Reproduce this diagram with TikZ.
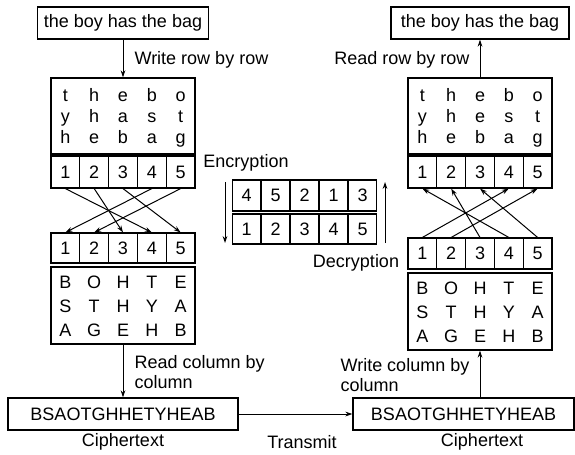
\documentclass[tikz,border=0pt]{standalone}
\usepackage{fontspec}
\setmainfont{Liberation Sans}
\usetikzlibrary{arrows.meta}

\begin{document}
\begin{tikzpicture}[x=0.6pt,y=-0.6pt,line width=0.7pt,
  every node/.style={font=\fontsize{10.8}{12}\selectfont},
  box/.style={draw,inner sep=0pt,minimum height=19.2pt},
  cell/.style={draw,inner sep=0pt,minimum width=17.28pt,minimum height=19.2pt},
  grid/.style={draw,inner sep=0pt,minimum width=86.4pt,minimum height=45.6pt},
  letter/.style={inner sep=0pt,anchor=base},
  lbl/.style={inner sep=0pt},
  arr/.style={-{Stealth[length=4.2pt,width=2.8pt]},line width=0.6pt}]
\useasboundingbox (0,0) rectangle (575,454);

% plaintext boxes
\node[box,minimum width=102.6pt] (ptL) at (123,23) {the boy has the bag};
\node[box,minimum width=106.8pt] (ptR) at (480,23) {the boy has the bag};

% letter grids
\node[grid] (mL) at (123,116) {};
\node[grid,minimum height=46.2pt] (cL) at (123,305.5) {};
\node[grid] (mR) at (480,116) {};
\node[grid,minimum height=46.2pt] (cR) at (480,311.5) {};

\foreach \row/\yy [count=\r] in {{t,h,e,b,o}/101,{y,h,a,s,t}/122,{h,e,b,a,g}/143}
  \foreach \ch [count=\i] in \row
    \node[letter] (plL-\r-\i) at ({65.4+28.8*(\i-1)},\yy) {\ch};
\foreach \row/\yy [count=\r] in {{t,h,e,b,o}/101,{y,h,e,s,t}/122,{h,e,b,a,g}/143}
  \foreach \ch [count=\i] in \row
    \node[letter] (plR-\r-\i) at ({422.4+28.8*(\i-1)},\yy) {\ch};
\foreach \row/\yy [count=\r] in {{B,O,H,T,E}/288,{S,T,H,Y,A}/312,{A,G,E,H,B}/336}
  \foreach \ch [count=\i] in \row
    \node[letter] (ctL-\r-\i) at ({65.4+28.8*(\i-1)},\yy) {\ch};
\foreach \row/\yy [count=\r] in {{B,O,H,T,E}/294,{S,T,H,Y,A}/318,{A,G,E,H,B}/342}
  \foreach \ch [count=\i] in \row
    \node[letter] (ctR-\r-\i) at ({422.4+28.8*(\i-1)},\yy) {\ch};

% key rows
\foreach \i in {1,...,5} {
  \node[cell] (kL\i) at ({65.4+28.8*(\i-1)},172) {\i};
  \node[cell,minimum height=18pt] (pL\i) at ({65.4+28.8*(\i-1)},248) {\i};
  \node[cell] (kR\i) at ({422.4+28.8*(\i-1)},172) {\i};
  \node[cell,minimum height=18.6pt] (pR\i) at ({422.4+28.8*(\i-1)},253.5) {\i};
  \node[cell,minimum height=18pt] (mn\i) at ({246.5+29*(\i-1)},229) {\i};
}
\foreach \k [count=\i] in {4,5,2,1,3}
  \node[cell,minimum height=18.6pt] (mk\i) at ({246.5+29*(\i-1)},195.5) {\k};

% cipher boxes
\node[box,minimum width=138pt] (ctL) at (123,414) {BSAOTGHHETYHEAB};
\node[box,minimum width=132.6pt] (ctR) at (463.5,414) {BSAOTGHHETYHEAB};

% arrows
\draw[arr] (ptL.south) -- (mL.north);
\draw[arr] (mR.north) -- (ptR.south);
\draw[arr] (cL.south) -- (ctL.north);
\draw[arr] (ctR.north -| cR.south) -- (cR.south);
\draw[arr] (ctL.east) -- (ctR.west);
\foreach \a/\b in {1/4,2/3,3/5,4/1,5/2}
  \draw[arr] (kL\a.south) -- (pL\b.north);
\foreach \a/\b in {1/4,2/5,3/2,4/1,5/3}
  \draw[arr] (pR\a.north) -- (kR\b.south);
\coordinate (encA) at (225,182);
\coordinate (encB) at (225,243);
\coordinate (decA) at (385,243);
\coordinate (decB) at (385,182);
\draw[arr] (encA) -- (encB);
\draw[arr] (decA) -- (decB);

% labels
\node[lbl,anchor=west] (wrr) at (134,60) {Write row by row};
\node[lbl,anchor=east] (rrr) at (470,60) {Read row by row};
\node[lbl] (enc) at (246,163) {Encryption};
\node[lbl] (dec) at (356,263) {Decryption};
\node[lbl,anchor=west,align=left] (rcc) at (134,372) {Read column by\\column};
\node[lbl,anchor=west,align=left] (wcc) at (340,375) {Write column by\\column};
\node[lbl] (ctxL) at (123,442) {Ciphertext};
\node[lbl] (ctxR) at (482,442) {Ciphertext};
\node[lbl] (tx) at (302,442) {Transmit};
\end{tikzpicture}
\end{document}
